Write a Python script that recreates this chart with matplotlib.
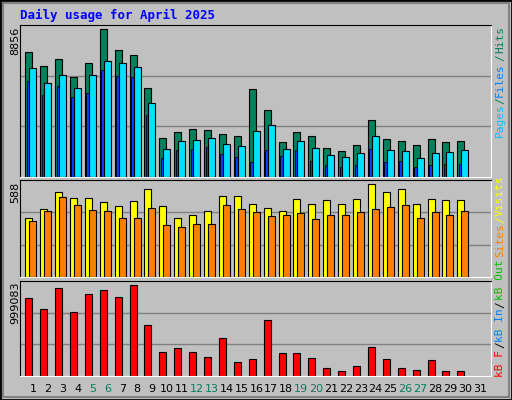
import matplotlib
matplotlib.use("Agg")
import matplotlib.pyplot as plt
from matplotlib.patches import Rectangle
import numpy as np

days = list(range(1, 32))
hits = [7475, 6633, 7054, 5972, 6814, 8856, 7595, 7294, 5310, 2365, 2725, 2906, 2846, 2605, 2485, 5250, 4048, 2124, 2725, 2485, 1763, 1583, 1944, 3447, 2305, 2184, 1944, 2305, 2124, 2184]
files = [6513, 5611, 6092, 5310, 6092, 6934, 6814, 6573, 4469, 1703, 2184, 2244, 2365, 2004, 1884, 2786, 3146, 1703, 2184, 1763, 1343, 1222, 1463, 2485, 1643, 1583, 1162, 1463, 1523, 1643]
pages = [5751, 4890, 5431, 4770, 5010, 6393, 6032, 5972, 3747, 1162, 1643, 1703, 1824, 1403, 1222, 922, 1643, 1283, 1643, 982, 741, 621, 741, 1703, 922, 982, 621, 741, 802, 802]
visits = [371, 428, 537, 498, 498, 473, 447, 479, 556, 447, 377, 396, 416, 511, 511, 460, 435, 416, 492, 466, 486, 466, 492, 588, 537, 556, 466, 492, 486, 486]
sites = [352, 416, 505, 454, 422, 416, 377, 377, 435, 327, 314, 333, 339, 454, 428, 409, 384, 390, 403, 365, 396, 396, 409, 428, 441, 454, 371, 409, 396, 416]
kbytes = [856900, 736500, 966300, 703700, 900700, 944400, 867800, 999083, 561500, 266200, 309900, 266200, 211500, 419300, 156800, 189600, 616200, 255200, 255200, 200500, 91200, 58300, 113000, 320900, 189600, 91200, 69300, 178700, 58300, 58300]
weekend = [5, 6, 12, 13, 19, 20, 26, 27]

W, H = 512, 400
fig = plt.figure(figsize=(W/100, H/100), dpi=100)
fig.patch.set_facecolor('#c0c0c0')
fig.patches.append(Rectangle((0, 0), 1, 1, transform=fig.transFigure, fill=False, edgecolor='black', lw=2))
fig.patches.append(Rectangle((3/W, 3/H), 1-6/W, 1-6/H, transform=fig.transFigure, fill=False, edgecolor='#808080', lw=1.5))

mono = 'DejaVu Sans Mono'
fig.text(20/W, 1-15/H, 'Daily usage for April 2025', color='#0000ff', fontsize=9,
         fontweight='bold', family=mono, va='center', ha='left')

x0, x1 = 20, 491
def add(top, bot):
    ax = fig.add_axes([x0/W, 1-bot/H, (x1-x0)/W, (bot-top)/H])
    ax.set_facecolor('#c0c0c0')
    ax.set_xlim(0.128, 31.74)
    ax.set_xticks([]); ax.set_yticks([])
    for s in ax.spines.values():
        s.set_color('black')
    ax.spines['right'].set_color('white'); ax.spines['bottom'].set_color('white')
    return ax

d = np.array(days[:len(hits)])
ax1 = add(25, 177)
ylim1 = 9118
ax1.set_ylim(0, ylim1)
for g in (ylim1/3, 2*ylim1/3):
    ax1.axhline(g, color='#808080', lw=1, zorder=0)
ax1.bar(d-0.52, hits, width=0.47, align='edge', color='#00805c', edgecolor='black', lw=0.8, zorder=2)
ax1.bar(d-0.42, pages, width=0.2, align='edge', color='#0040ff', edgecolor='black', lw=0.6, zorder=3)
ax1.bar(d-0.25, files, width=0.47, align='edge', color='#00e0ff', edgecolor='black', lw=0.8, zorder=4)

ax2 = add(180, 277)
ylim2 = 615
ax2.set_ylim(0, ylim2)
for g in (ylim2/3, 2*ylim2/3):
    ax2.axhline(g, color='#808080', lw=1, zorder=0)
ax2.bar(d-0.52, visits, width=0.47, align='edge', color='#ffff00', edgecolor='black', lw=0.8, zorder=2)
ax2.bar(d-0.25, sites, width=0.47, align='edge', color='#ff8000', edgecolor='black', lw=0.8, zorder=3)

ax3 = add(281, 376)
ylim3 = 1039000
ax3.set_ylim(0, ylim3)
for g in (ylim3/3, 2*ylim3/3):
    ax3.axhline(g, color='#808080', lw=1, zorder=0)
ax3.bar(d-0.52, kbytes, width=0.47, align='edge', color='#ff0000', edgecolor='black', lw=0.8, zorder=2)

for day in days:
    ax3.text(day, -0.14, str(day), transform=ax3.get_xaxis_transform(), ha='center', va='center',
             fontsize=8, family='DejaVu Sans', color='#00805c' if day in weekend else 'black')

# left max labels
for txt, ytop in (('8856', 27), ('588', 182), ('999083', 281)):
    fig.text(15/W, 1-ytop/H, txt, rotation=90, ha='center', va='top', fontsize=8, family='DejaVu Sans')

def rlabel(parts):
    for txt, col, ybot in parts:
        fig.text(500/W, 1-ybot/H, txt, rotation=90, ha='center', va='bottom', fontsize=8,
                 family=mono, color=col)

rlabel([('Pages', '#00c0ff', 137), ('/', '#00805c', 104), ('Files', '#0080ff', 97),
        ('/', '#00805c', 61), ('Hits', '#00805c', 53)])
rlabel([('Sites', '#ff8000', 257), ('/', '#ffff00', 223), ('Visits', '#ffff00', 216)])
rlabel([('kB F', '#ff0000', 377), ('/', '#000000', 348), ('kB In', '#0080ff', 342),
        ('/', '#000000', 308), ('kB Out', '#00c000', 300)])

fig.savefig('out.png', dpi=100, facecolor=fig.get_facecolor())
